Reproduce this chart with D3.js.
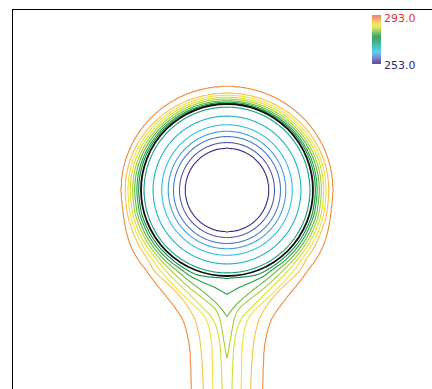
<!DOCTYPE html>
<html>
<head>
<meta charset="utf-8">
<script src="https://cdn.jsdelivr.net/npm/d3@7"></script>
<style>
  html, body { margin: 0; padding: 0; background: #fff; }
  svg { display: block; }
</style>
</head>
<body>
<script>
// Temperature field (K) around a cold cylinder of radius 1, with a cold plume sinking below it.

const cylinderRadius = 1;
const surfaceTemp = 273;
const tempRange = [253, 293];

// Concentric isotherms inside the cylinder
const centreTemp = 254;
const innerLevels = [255, 257, 259, 261, 263, 266, 270];
const innerRadii  = [0.488, 0.552, 0.622, 0.683, 0.759, 0.860, 0.965];

// Isotherms outside the cylinder
const outerLevels = [275, 277, 279, 281, 283, 285, 287, 290];
// distance of each outer isotherm from the surface, above the cylinder and at its side
const gapTop  = [0.009, 0.021, 0.037, 0.058, 0.079, 0.102, 0.126, 0.203];
const gapSide = [0.027, 0.047, 0.073, 0.097, 0.124, 0.151, 0.183, 0.229];

// Lower half: [depth below centre, half-width] of each outer isotherm
const lower275 = [[0,1.027],[0.233,1.002],[0.465,0.916],[0.640,0.806],[0.814,0.631],[0.930,0.465],[0.977,0.372],[1.0,0.291],[1.017,0.140],[1.027,0]];
const lower277 = [[0,1.047],[0.233,1.023],[0.465,0.942],[0.640,0.838],[0.814,0.680],[0.930,0.523],[1.0,0.430],[1.070,0.291],[1.140,0.128],[1.180,0.058],[1.213,0]];
const lower279 = [[0,1.073],[0.233,1.050],[0.465,0.973],[0.640,0.873],[0.814,0.726],[0.930,0.592],[1.066,0.430],[1.163,0.302],[1.256,0.192],[1.337,0.105],[1.407,0.047],[1.473,0]];
const lower281 = [[0,1.097],[0.233,1.076],[0.465,1.001],[0.640,0.908],[0.814,0.771],[0.930,0.658],[1.143,0.430],[1.279,0.256],[1.395,0.128],[1.512,0.081],[1.686,0.049],[1.860,0.019],[1.969,0]];
const lower283 = [[0,1.124],[0.233,1.103],[0.465,1.034],[0.640,0.943],[0.814,0.814],[0.930,0.717],[1.221,0.430],[1.337,0.314],[1.512,0.159],[1.686,0.099],[1.860,0.076],[2.093,0.064],[2.314,0.058],[2.791,0.058]];
const lower285 = [[0,1.151],[0.233,1.133],[0.465,1.066],[0.640,0.983],[0.814,0.863],[0.930,0.781],[1.299,0.430],[1.395,0.326],[1.512,0.238],[1.686,0.192],[1.860,0.174],[2.093,0.169],[2.314,0.165],[2.791,0.163]];
const lower287 = [[0,1.183],[0.233,1.165],[0.465,1.103],[0.640,1.027],[0.814,0.917],[0.930,0.852],[1.105,0.674],[1.221,0.558],[1.395,0.430],[1.512,0.372],[1.686,0.326],[1.860,0.302],[2.093,0.285],[2.314,0.276],[2.791,0.273]];
const lower290 = [[0,1.229],[0.233,1.209],[0.465,1.173],[0.640,1.120],[0.814,1.029],[0.930,0.942],[1.047,0.857],[1.241,0.701],[1.395,0.585],[1.512,0.512],[1.686,0.459],[1.860,0.430],[2.093,0.419],[2.314,0.413],[2.791,0.413]];
const lowerProfiles = [lower275, lower277, lower279, lower281, lower283, lower285, lower287, lower290];

// Temperature along the plume axis below the cylinder
const axisDepth = [1.0, 1.027, 1.213, 1.473, 1.969, 3.2];
const axisTemp  = [273, 275, 277, 279, 281, 283.5];

// Colour map
const colorStopValues = [253, 255, 257, 259, 261, 263, 266, 270, 273, 275, 277, 279, 281, 283, 285, 287, 290, 293];
const colorStopColors = ["#3a2484", "#3b2a8c", "#5558a8", "#4a78c8", "#3a9ee0", "#2ebfe8", "#18b4c0",
                         "#14a078", "#118f52", "#0f8a3c", "#1fa040", "#62b93a", "#a4d030", "#d4e030",
                         "#f2e23a", "#f5c24a", "#f08a3c", "#ea5a62"];
const colorbarLabels = ["293.0", "253.0"];

const width = 432, height = 389;
const farReach = 0.7;

const xScale = d3.scaleLinear().domain([-2.5, 2.5]).range([12, 442]);
const yScale = d3.scaleLinear().domain([2.105, -2.5]).range([9, 405]);
const color = d3.scaleLinear().domain(colorStopValues).range(colorStopColors).interpolate(d3.interpolateRgb);

// Piecewise-linear lookup
function interp(xs, ys, v) {
  if (v <= xs[0]) return ys[0];
  for (let i = 1; i < xs.length; i++) {
    if (v <= xs[i]) {
      const t = (v - xs[i - 1]) / (xs[i] - xs[i - 1]);
      return ys[i - 1] + t * (ys[i] - ys[i - 1]);
    }
  }
  return ys[ys.length - 1];
}

// Shape-preserving (monotone) cubic lookup, so isotherms bend smoothly between readings
function monotoneCubic(xs, ys, startSlope) {
  const n = xs.length;
  const h = [], delta = [];
  for (let i = 0; i < n - 1; i++) {
    h.push(xs[i + 1] - xs[i]);
    delta.push((ys[i + 1] - ys[i]) / h[i]);
  }
  const m = new Array(n);
  m[0] = startSlope !== undefined ? startSlope : delta[0];
  m[n - 1] = delta[n - 2];
  for (let i = 1; i < n - 1; i++) {
    if (delta[i - 1] * delta[i] <= 0) m[i] = 0;
    else m[i] = 3 * (h[i - 1] + h[i]) /
      ((2 * h[i] + h[i - 1]) / delta[i - 1] + (h[i] + 2 * h[i - 1]) / delta[i]);
  }
  return function (v) {
    if (v <= xs[0]) return ys[0];
    if (v >= xs[n - 1]) return ys[n - 1];
    let i = 0;
    while (v > xs[i + 1]) i++;
    const t = (v - xs[i]) / h[i], t2 = t * t, t3 = t2 * t;
    return (2 * t3 - 3 * t2 + 1) * ys[i] + (t3 - 2 * t2 + t) * h[i] * m[i] +
           (-2 * t3 + 3 * t2) * ys[i + 1] + (t3 - t2) * h[i] * m[i + 1];
  };
}

const innerR = [0, ...innerRadii, cylinderRadius];
const innerT = [centreTemp, ...innerLevels, surfaceTemp];
const profileFns = lowerProfiles.map(p => monotoneCubic(p.map(d => d[0]), p.map(d => d[1]), 0));
const profileEnds = lowerProfiles.map(p => {
  const last = p[p.length - 1];
  return last[1] === 0 ? last[0] : Infinity;
});

// Per-row breakpoints (half-width -> temperature) below the centre line
function rowBreaks(depth) {
  const xs = [], ts = [];
  if (depth < cylinderRadius) {
    xs.push(Math.sqrt(cylinderRadius * cylinderRadius - depth * depth));
    ts.push(surfaceTemp);
  } else {
    xs.push(0);
    ts.push(interp(axisDepth, axisTemp, depth));
  }
  outerLevels.forEach((lev, i) => {
    if (depth >= profileEnds[i]) return;
    let w = profileFns[i](depth);
    w = Math.max(w, xs[xs.length - 1] + 1e-4);
    xs.push(w);
    ts.push(lev);
  });
  xs.push(xs[xs.length - 1] + farReach);
  ts.push(tempRange[1]);
  return { xs, ts };
}

// Sample the field on a regular grid
const gx0 = -2.7, gy0 = 2.2, step = 0.008;
const nx = Math.round(5.4 / step) + 1;
const ny = Math.round(4.8 / step) + 1;
const values = new Float64Array(nx * ny);
const upperT = [surfaceTemp, ...outerLevels, tempRange[1]];

for (let j = 0; j < ny; j++) {
  const y = gy0 - j * step;
  const row = y < 0 ? rowBreaks(-y) : null;
  for (let i = 0; i < nx; i++) {
    const x = gx0 + i * step;
    const r = Math.hypot(x, y);
    let T;
    if (r < cylinderRadius) {
      T = interp(innerR, innerT, r);
    } else if (y >= 0) {
      const s2 = (x * x) / (r * r);
      const gaps = gapTop.map((g, k) => g + (gapSide[k] - g) * s2);
      T = interp([0, ...gaps, gaps[gaps.length - 1] + farReach], upperT, r - cylinderRadius);
    } else {
      T = interp(row.xs, row.ts, Math.abs(x));
    }
    values[j * nx + i] = T;
  }
}

const levels = [...innerLevels, ...outerLevels];
const contours = d3.contours().size([nx, ny]).thresholds(levels)(values);

const projection = d3.geoTransform({
  point(px, py) {
    this.stream.point(xScale(gx0 + (px - 0.5) * step), yScale(gy0 - (py - 0.5) * step));
  }
});
const path = d3.geoPath(projection);

const svg = d3.select("body").append("svg")
  .attr("width", width).attr("height", height);

const [px0, px1] = xScale.range();
const [py0, py1] = yScale.range();

svg.append("clipPath").attr("id", "plot-clip")
  .append("rect")
  .attr("x", px0).attr("y", py0)
  .attr("width", px1 - px0).attr("height", py1 - py0);

const plot = svg.append("g").attr("clip-path", "url(#plot-clip)");

plot.selectAll("path.iso")
  .data(contours)
  .join("path")
  .attr("class", "iso")
  .attr("d", path)
  .attr("fill", "none")
  .attr("stroke", d => color(d.value))
  .attr("stroke-width", 1.1)
  .attr("stroke-linejoin", "round");

// Cylinder surface
plot.append("circle")
  .attr("cx", xScale(0)).attr("cy", yScale(0))
  .attr("r", xScale(cylinderRadius) - xScale(0))
  .attr("fill", "none")
  .attr("stroke", "#111")
  .attr("stroke-width", 1.8);

// Frame
svg.append("rect")
  .attr("x", px0 + 0.5).attr("y", py0 + 0.5)
  .attr("width", px1 - px0).attr("height", py1 - py0)
  .attr("fill", "none")
  .attr("stroke", "#000")
  .attr("stroke-width", 1);

// Colour bar
const cbX = 372, cbY = 15, cbW = 9, cbH = 49;
const grad = svg.append("defs").append("linearGradient")
  .attr("id", "cbar").attr("x1", 0).attr("y1", 1).attr("x2", 0).attr("y2", 0);
d3.range(0, 1.0001, 0.05).forEach(t => {
  const v = tempRange[0] + t * (tempRange[1] - tempRange[0]);
  grad.append("stop").attr("offset", t).attr("stop-color", color(v));
});
svg.append("rect")
  .attr("x", cbX).attr("y", cbY).attr("width", cbW).attr("height", cbH)
  .attr("fill", "url(#cbar)").attr("opacity", 0.78);

svg.append("text")
  .attr("x", cbX + cbW + 3).attr("y", cbY + 6.5)
  .attr("font-family", "DejaVu Sans, sans-serif").attr("font-size", 11)
  .attr("fill", "#e0303c")
  .text(colorbarLabels[0]);
svg.append("text")
  .attr("x", cbX + cbW + 3).attr("y", cbY + cbH + 5)
  .attr("font-family", "DejaVu Sans, sans-serif").attr("font-size", 11)
  .attr("fill", "#2c2878")
  .text(colorbarLabels[1]);
</script>
</body>
</html>
